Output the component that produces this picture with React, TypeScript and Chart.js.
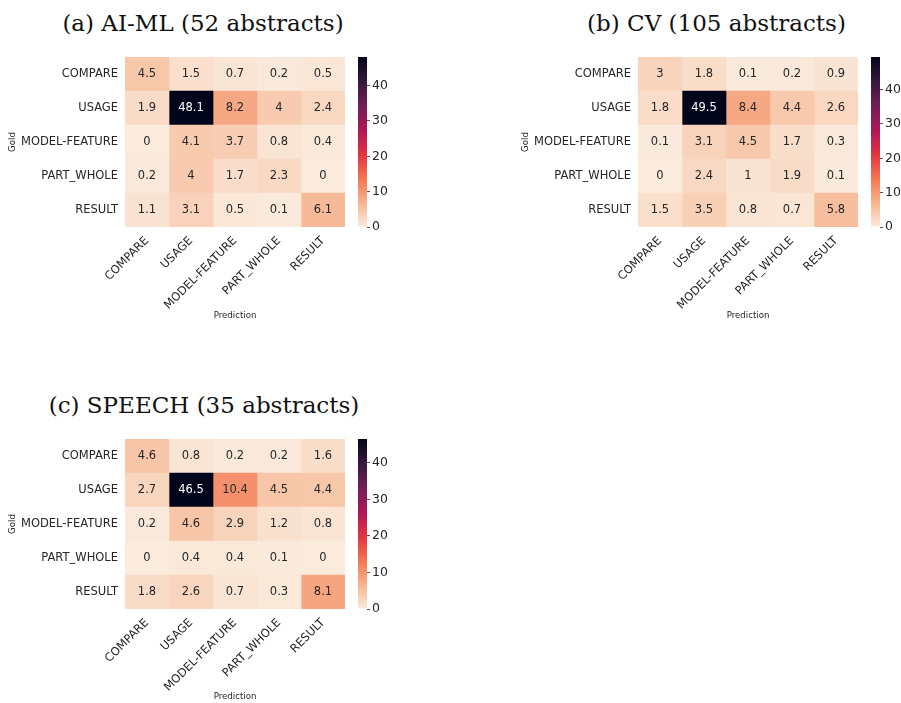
import React, { useEffect, useRef } from "react";
import { Chart, registerables } from "chart.js";
Chart.register(...registerables);

// ---------- data ----------
const rowLabels = ["COMPARE", "USAGE", "MODEL-FEATURE", "PART_WHOLE", "RESULT"];
const colLabels = ["COMPARE", "USAGE", "MODEL-FEATURE", "PART_WHOLE", "RESULT"];
const yAxisTitle = "Gold";
const xAxisTitle = "Prediction";
const colorbarTicks = [0, 10, 20, 30, 40];

const aimlTitle = "(a) AI-ML (52 abstracts)";
const aimlValues = [
  [4.5, 1.5, 0.7, 0.2, 0.5],
  [1.9, 48.1, 8.2, 4, 2.4],
  [0, 4.1, 3.7, 0.8, 0.4],
  [0.2, 4, 1.7, 2.3, 0],
  [1.1, 3.1, 0.5, 0.1, 6.1],
];

const cvTitle = "(b) CV (105 abstracts)";
const cvValues = [
  [3, 1.8, 0.1, 0.2, 0.9],
  [1.8, 49.5, 8.4, 4.4, 2.6],
  [0.1, 3.1, 4.5, 1.7, 0.3],
  [0, 2.4, 1, 1.9, 0.1],
  [1.5, 3.5, 0.8, 0.7, 5.8],
];

const speechTitle = "(c) SPEECH (35 abstracts)";
const speechValues = [
  [4.6, 0.8, 0.2, 0.2, 1.6],
  [2.7, 46.5, 10.4, 4.5, 4.4],
  [0.2, 4.6, 2.9, 1.2, 0.8],
  [0, 0.4, 0.4, 0.1, 0],
  [1.8, 2.6, 0.7, 0.3, 8.1],
];

// ---------- styling ----------
const SANS = '"DejaVu Sans", sans-serif';
const SERIF = '"DejaVu Serif", serif';
const TEXT = "#262626";
const TICK_SIZE = 11.5;
const SMALL_SIZE = 8.6;
const CBAR_SIZE = 12.5;

// rocket colormap stops
const ROCKET: [number, string][] = [
  [0, "#03051a"],
  [1 / 7, "#35193e"],
  [2 / 7, "#701f57"],
  [3 / 7, "#ad1759"],
  [4 / 7, "#e13342"],
  [5 / 7, "#f37651"],
  [6 / 7, "#f6b48f"],
  [1, "#faebdd"],
];
function hexRgb(h: string): number[] {
  return [1, 3, 5].map((i) => parseInt(h.slice(i, i + 2), 16));
}
function rocketRgb(t: number): number[] {
  t = Math.max(0, Math.min(1, t));
  for (let k = 0; k < ROCKET.length - 1; k++) {
    const [t0, c0] = ROCKET[k];
    const [t1, c1] = ROCKET[k + 1];
    if (t <= t1) {
      const f = (t - t0) / (t1 - t0);
      const a = hexRgb(c0);
      const b = hexRgb(c1);
      return a.map((v, i) => Math.round(v + (b[i] - v) * f));
    }
  }
  return hexRgb(ROCKET[ROCKET.length - 1][1]);
}
function rocketR(f: number): string {
  const [r, g, b] = rocketRgb(1 - f);
  return `rgb(${r},${g},${b})`;
}
function textColorFor(f: number): string {
  const rgb = rocketRgb(1 - f).map((v) => {
    const c = v / 255;
    return c <= 0.03928 ? c / 12.92 : Math.pow((c + 0.055) / 1.055, 2.4);
  });
  const lum = rgb[0] * 0.2126 + rgb[1] * 0.7152 + rgb[2] * 0.0722;
  return lum > 0.3 ? TEXT : "#ffffff";
}
const maxOf = (vals: number[][]) => Math.max(...vals.map((r) => Math.max(...r)));

// ---------- chart configs ----------
function annotPlugin(values: number[][], vmax: number) {
  return {
    id: "cellAnnot",
    afterDatasetsDraw(chart: any) {
      const ctx = chart.ctx;
      ctx.save();
      ctx.font = `${TICK_SIZE}px ${SANS}`;
      ctx.textAlign = "center";
      ctx.textBaseline = "middle";
      chart.data.datasets.forEach((_: any, j: number) => {
        chart.getDatasetMeta(j).data.forEach((el: any, i: number) => {
          const v = values[i][j];
          const { x, y } = el.getCenterPoint();
          ctx.fillStyle = textColorFor(v / vmax);
          ctx.fillText(String(v), x, y);
        });
      });
      ctx.restore();
    },
  };
}

function heatmapConfig(values: number[][], xAxisHeight: number): any {
  const vmax = maxOf(values);
  return {
    type: "bar",
    data: {
      labels: rowLabels,
      datasets: colLabels.map((c, j) => ({
        label: c,
        data: rowLabels.map(() => 1),
        backgroundColor: rowLabels.map((_, i) => rocketR(values[i][j] / vmax)),
        borderWidth: 0,
        barPercentage: 1,
        categoryPercentage: 1,
      })),
    },
    options: {
      indexAxis: "y",
      animation: false,
      responsive: false,
      devicePixelRatio: 1,
      events: [],
      layout: { padding: { top: 57, right: 5, left: 0, bottom: 0 } },
      plugins: { legend: { display: false }, tooltip: { enabled: false } },
      scales: {
        x: {
          type: "linear",
          min: 0,
          max: colLabels.length,
          stacked: true,
          afterBuildTicks: (s: any) => {
            s.ticks = colLabels.map((_, j) => ({ value: j + 0.5 }));
          },
          afterFit: (s: any) => {
            s.height = xAxisHeight;
          },
          ticks: {
            autoSkip: false,
            maxRotation: 45,
            minRotation: 45,
            padding: 7,
            color: TEXT,
            font: { family: SANS, size: TICK_SIZE },
            callback: (v: any) => colLabels[Math.floor(Number(v))],
          },
          grid: { display: false, drawTicks: false },
          border: { display: false },
          title: {
            display: true,
            text: xAxisTitle,
            color: TEXT,
            font: { family: SANS, size: SMALL_SIZE },
            padding: { top: 0, bottom: 1 },
          },
        },
        y: {
          type: "category",
          stacked: true,
          offset: true,
          afterFit: (s: any) => {
            s.width = 125;
          },
          ticks: { padding: 7, color: TEXT, font: { family: SANS, size: TICK_SIZE } },
          grid: { display: false, drawTicks: false },
          border: { display: false },
          title: {
            display: true,
            text: yAxisTitle,
            color: TEXT,
            font: { family: SANS, size: SMALL_SIZE },
            padding: { top: 7.8, bottom: 0 },
          },
        },
      },
    },
    plugins: [annotPlugin(values, vmax)],
  };
}

function colorbarConfig(values: number[][]): any {
  const vmax = maxOf(values);
  return {
    type: "bar",
    data: {
      labels: [""],
      datasets: [
        {
          data: [vmax],
          borderWidth: 0,
          barPercentage: 1,
          categoryPercentage: 1,
          inflateAmount: 0,
          backgroundColor: (c: any) => {
            const area = c.chart.chartArea;
            if (!area) return "#ffffff";
            const g = c.chart.ctx.createLinearGradient(0, area.bottom, 0, area.top);
            for (let k = 0; k <= 40; k++) g.addColorStop(k / 40, rocketR(k / 40));
            return g;
          },
        },
      ],
    },
    options: {
      animation: false,
      responsive: false,
      devicePixelRatio: 1,
      events: [],
      layout: { padding: { left: 0, top: 10, bottom: 10, right: 0 } },
      plugins: { legend: { display: false }, tooltip: { enabled: false } },
      scales: {
        x: { display: false },
        y: {
          position: "right",
          min: 0,
          max: vmax,
          afterBuildTicks: (s: any) => {
            s.ticks = colorbarTicks.filter((t) => t <= vmax).map((v) => ({ value: v }));
          },
          afterFit: (s: any) => {
            s.width = 30;
          },
          ticks: { padding: 2, color: TEXT, font: { family: SANS, size: CBAR_SIZE } },
          grid: { drawOnChartArea: false, drawTicks: true, tickLength: 3, color: TEXT, lineWidth: 0.8 },
          border: { display: false },
        },
      },
    },
  };
}

// ---------- components ----------
function ChartCanvas(props: { make: () => any; left: number; top: number; width: number; height: number }) {
  const ref = useRef<HTMLCanvasElement>(null);
  useEffect(() => {
    const chart = new Chart(ref.current as HTMLCanvasElement, props.make());
    return () => chart.destroy();
  }, []);
  return (
    <canvas
      ref={ref}
      width={props.width}
      height={props.height}
      style={{ position: "absolute", left: props.left, top: props.top, width: props.width, height: props.height }}
    />
  );
}

const TITLE_SIZE = 23;

function Panel(props: {
  title: string;
  values: number[][];
  left: number;
  top: number;
  height: number;
  xAxisHeight: number;
  titleCenter: number;
  titleBaseline: number;
}) {
  const { left, top } = props;
  return (
    <>
      <div
        style={{
          position: "absolute",
          left: props.titleCenter - 200,
          width: 400,
          top: props.titleBaseline - TITLE_SIZE * 0.846,
          textAlign: "center",
          fontFamily: SERIF,
          fontSize: TITLE_SIZE,
          lineHeight: 1,
          whiteSpace: "nowrap",
          color: "#111",
        }}
      >
        {props.title}
      </div>
      <ChartCanvas
        make={() => heatmapConfig(props.values, props.xAxisHeight)}
        left={left}
        top={top}
        width={350}
        height={props.height}
      />
      <ChartCanvas make={() => colorbarConfig(props.values)} left={left + 358} top={top + 47} width={39} height={190} />
    </>
  );
}

export default function App() {
  return (
    <div
      style={{
        position: "absolute",
        left: 0,
        top: 0,
        width: 901,
        height: 703,
        overflow: "hidden",
        background: "#ffffff",
      }}
    >
      <Panel title={aimlTitle} values={aimlValues} left={0} top={0} height={322} xAxisHeight={95} titleCenter={203} titleBaseline={31.3} />
      <Panel title={cvTitle} values={cvValues} left={513} top={0} height={322} xAxisHeight={95} titleCenter={716.5} titleBaseline={31.3} />
      <Panel title={speechTitle} values={speechValues} left={0} top={382} height={321} xAxisHeight={94} titleCenter={204} titleBaseline={413} />
    </div>
  );
}
